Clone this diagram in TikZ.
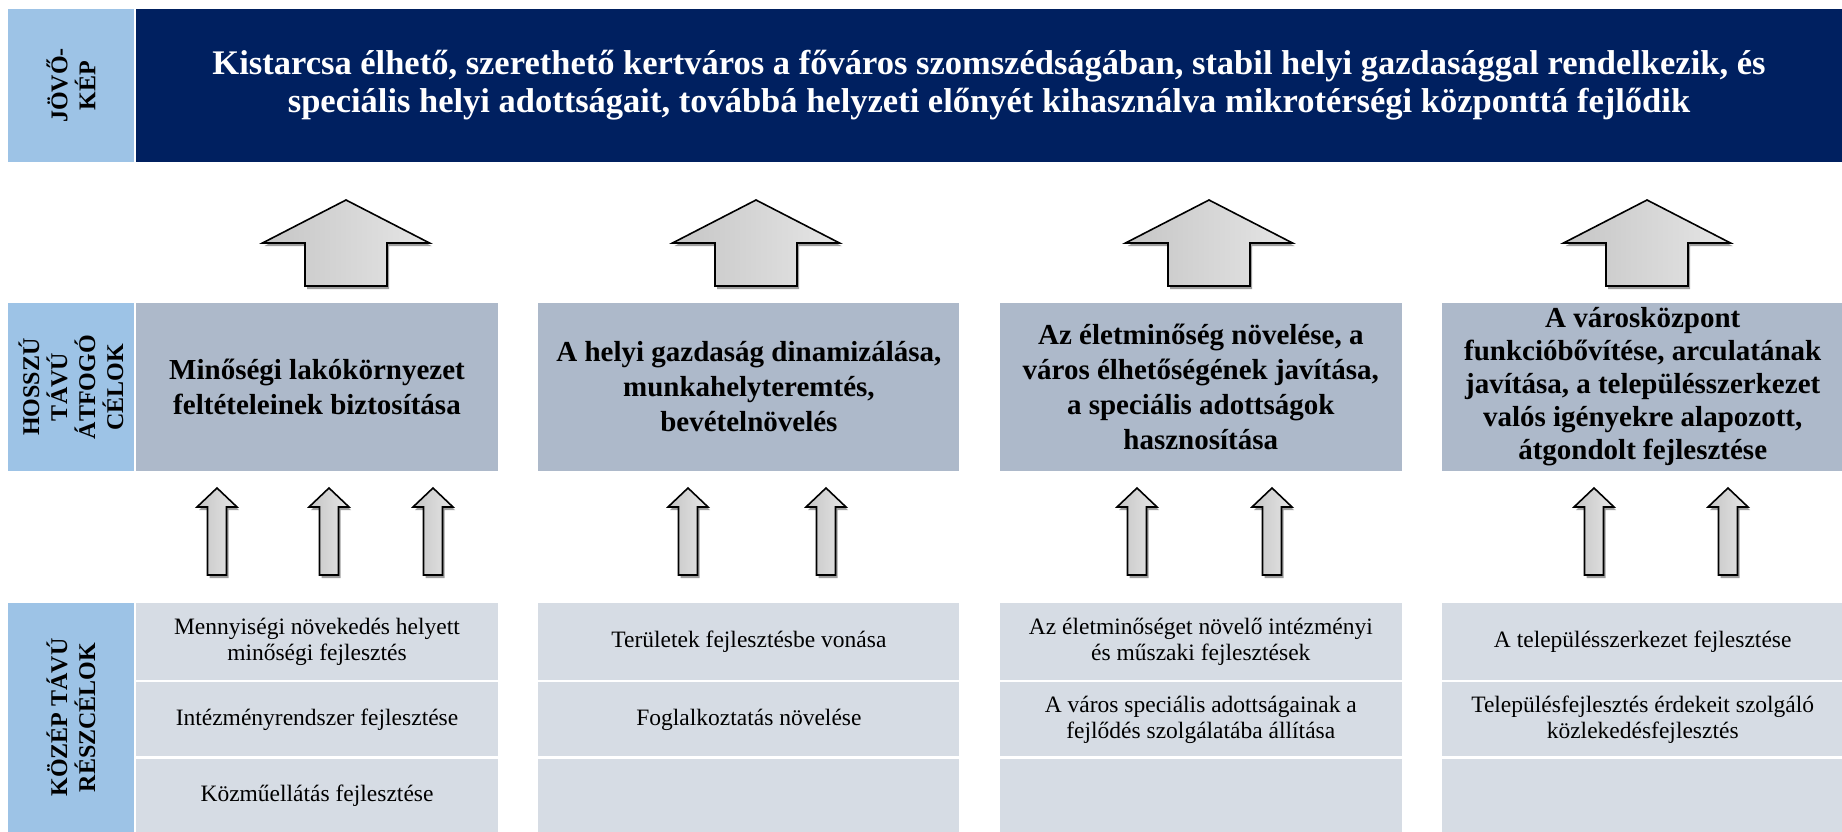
\documentclass[tikz,border=0pt]{standalone}
\usepackage{fontspec}
\setmainfont{Liberation Serif}
\usetikzlibrary{positioning,calc,shadows}

\definecolor{navy}{HTML}{002060}
\definecolor{labelblue}{HTML}{9DC3E6}
\definecolor{goalgray}{HTML}{ADB9CA}
\definecolor{subgray}{HTML}{D6DCE4}

\tikzset{
  lab/.style={fill=labelblue, inner sep=0pt, align=center, font=\bfseries\fontsize{24}{28}\selectfont},
  vision/.style={fill=navy, text=white, inner sep=0pt, align=center, font=\bfseries\fontsize{34.5}{38}\selectfont},
  goal/.style={fill=goalgray, inner sep=0pt, align=center, minimum height=168pt, font=\bfseries\fontsize{29}{35}\selectfont},
  sub/.style={fill=subgray, inner sep=0pt, align=center, font=\fontsize{23.5}{26}\selectfont},
  colA/.style={minimum width=362pt},
  colB/.style={minimum width=421pt},
  colC/.style={minimum width=402pt},
  colD/.style={minimum width=401pt},
  blockarrow/.style={draw=black, line width=1.6pt, line join=miter, left color=gray!45, right color=gray!20,
    drop shadow={shadow xshift=2pt, shadow yshift=-3pt, fill=gray!75, opacity=1}},
  bigup/.pic={\draw[blockarrow] (0,0) -- (83.5,43) -- (41,43) -- (41,86) -- (-41,86) -- (-41,43) -- (-83.5,43) -- cycle;},
  smallup/.pic={\draw[blockarrow] (0,0) -- (20,19) -- (9.5,19) -- (9.5,87) -- (-9.5,87) -- (-9.5,19) -- (-20,19) -- cycle;}
}

\begin{document}
\begin{tikzpicture}[x=1pt,y=-1pt]
    \useasboundingbox (0,0) rectangle (1842,832);
    % Row labels
    \node[lab, rotate=90, minimum width=153pt, minimum height=126pt] (vislab) at (71,85.5) {JÖVŐ-\\KÉP};
    \node[lab, rotate=90, minimum width=168pt, minimum height=126pt] (goallab) at (71,387) {HOSSZÚ\\TÁVÚ\\ÁTFOGÓ\\CÉLOK};
    \node[lab, rotate=90, minimum width=229pt, minimum height=126pt] (sublab) at (71,717.5) {KÖZÉP TÁVÚ\\RÉSZCÉLOK};
    % Vision
    \node[vision, minimum width=1706pt, minimum height=153pt] (vision) at (989,85.5)
      {Kistarcsa élhető, szerethető kertváros a főváros szomszédságában, stabil helyi gazdasággal rendelkezik, és\\
       speciális helyi adottságait, továbbá helyzeti előnyét kihasználva mikrotérségi központtá fejlődik};
    % Long term goals
    \node[goal, colA] (goal1) at (317,387) {Minőségi lakókörnyezet\\feltételeinek biztosítása};
    \node[goal, colB, right=40pt of goal1] (goal2) {A helyi gazdaság dinamizálása,\\munkahelyteremtés,\\bevételnövelés};
    \node[goal, colC, right=40pt of goal2] (goal3) {Az életminőség növelése, a\\város élhetőségének javítása,\\a speciális adottságok\\hasznosítása};
    \node[goal, colD, right=40pt of goal3, font=\bfseries\fontsize{29}{33}\selectfont] (goal4) {A városközpont\\funkcióbővítése, arculatának\\javítása, a településszerkezet\\valós igényekre alapozott,\\átgondolt fejlesztése};
    % Medium term sub-goals
    \node[sub, colA, minimum height=77pt] (s1a) at (317,641.5) {Mennyiségi növekedés helyett\\minőségi fejlesztés};
    \node[sub, colA, minimum height=74pt, below=2pt of s1a] (s1b) {Intézményrendszer fejlesztése};
    \node[sub, colA, minimum height=74pt, below=2pt of s1b] (s1c) {Közműellátás fejlesztése};
    \node[sub, colB, minimum height=77pt, right=40pt of s1a] (s2a) {Területek fejlesztésbe vonása};
    \node[sub, colB, minimum height=74pt, below=2pt of s2a] (s2b) {Foglalkoztatás növelése};
    \node[sub, colB, minimum height=74pt, below=2pt of s2b] (s2c) {};
    \node[sub, colC, minimum height=77pt, right=40pt of s2a] (s3a) {Az életminőséget növelő intézményi\\és műszaki fejlesztések};
    \node[sub, colC, minimum height=74pt, below=2pt of s3a] (s3b) {A város speciális adottságainak a\\fejlődés szolgálatába állítása};
    \node[sub, colC, minimum height=74pt, below=2pt of s3b] (s3c) {};
    \node[sub, colD, minimum height=77pt, right=40pt of s3a] (s4a) {A településszerkezet fejlesztése};
    \node[sub, colD, minimum height=74pt, below=2pt of s4a] (s4b) {Településfejlesztés érdekeit szolgáló\\közlekedésfejlesztés};
    \node[sub, colD, minimum height=74pt, below=2pt of s4b] (s4c) {};
    % Block arrows
    \foreach \x in {346,756,1209,1647} \pic at (\x,200) {bigup};
    \foreach \x in {217,329,433,688,826,1137,1272,1594,1728} \pic at (\x,488) {smallup};
\end{tikzpicture}
\end{document}
